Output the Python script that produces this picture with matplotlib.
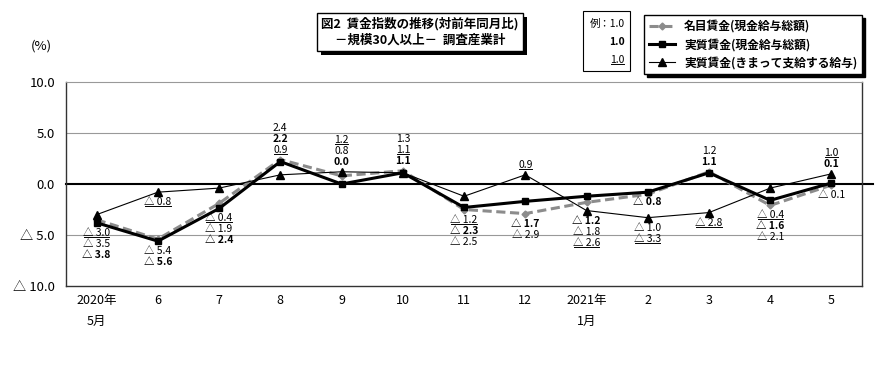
import matplotlib
matplotlib.use("Agg")
import matplotlib.pyplot as plt
import matplotlib.patheffects as pe
from matplotlib.lines import Line2D
from matplotlib.patches import Rectangle
from matplotlib.transforms import IdentityTransform

plt.rcParams['font.family'] = ['Noto Sans CJK JP', 'DejaVu Sans']

months = ['2020年\n5月', '6', '7', '8', '9', '10', '11', '12', '2021年\n1月', '2', '3', '4', '5']
nominal = [-3.5, -5.4, -1.9, 2.4, 0.8, 1.3, -2.5, -2.9, -1.8, -1.0, 1.2, -2.1, -0.1]
real = [-3.8, -5.6, -2.4, 2.2, 0.0, 1.1, -2.3, -1.7, -1.2, -0.8, 1.1, -1.6, 0.1]
real_fixed = [-3.0, -0.8, -0.4, 0.9, 1.2, 1.1, -1.2, 0.9, -2.6, -3.3, -2.8, -0.4, 1.0]
yticks = [10, 5, 0, -5, -10]
ytick_labels = ['10.0', '5.0', '0.0', '△ 5.0', '△ 10.0']

series = {'nom': nominal, 'real': real, 'tri': real_fixed}

# label stacks per month: (side, anchor series, order top->bottom)
stacks = [
    [('b', 'real', ['tri', 'nom', 'real'])],
    [('b', 'tri', ['tri']), ('b', 'real', ['nom', 'real'])],
    [('b', 'real', ['tri', 'nom', 'real'])],
    [('a', 'nom', ['nom', 'real', 'tri'])],
    [('a', 'tri', ['tri', 'nom', 'real'])],
    [('a', 'nom', ['nom', 'tri', 'real'])],
    [('b', 'nom', ['tri', 'real', 'nom'])],
    [('a', 'tri', ['tri']), ('b', 'nom', ['real', 'nom'])],
    [('b', 'tri', ['real', 'nom', 'tri'])],
    [('b', 'real', ['real']), ('b', 'tri', ['nom', 'tri'])],
    [('a', 'nom', ['nom', 'real']), ('b', 'tri', ['tri'])],
    [('b', 'nom', ['tri', 'real', 'nom'])],
    [('a', 'tri', ['tri', 'real']), ('b', 'nom', ['nom'])],
]


def fmt(v):
    if v < 0:
        return '△ %.1f' % (-v)
    return '%.1f' % v


fig = plt.figure(figsize=(8.9, 3.65), dpi=100)
ax = fig.add_axes([0.0742, 0.2164, 0.8944, 0.5589])
x = list(range(len(months)))

ax.plot(x, nominal, color='#8c8c8c', lw=2.2, ls=(0, (3, 1.5)), marker='D', ms=3.5,
        zorder=3, label='名目賃金(現金給与総額)')
ax.plot(x, real, color='black', lw=2.2, marker='s', ms=5, zorder=4,
        label='実質賃金(現金給与総額)')
ax.plot(x, real_fixed, color='black', lw=0.8, marker='^', ms=5.5, zorder=5,
        label='実質賃金(きまって支給する給与)')

ax.axhline(0, xmin=0, xmax=1.014, color='black', lw=1.5, clip_on=False, zorder=2)
for g in [5, -5]:
    ax.axhline(g, color='#999999', lw=0.8, zorder=1)

ax.set_xlim(-0.5, 12.5)
ax.set_ylim(-10, 10)
ax.set_yticks(yticks)
ax.set_yticklabels(ytick_labels, fontsize=9.5)
ax.set_xticks(x)
ax.set_xticklabels(months, fontsize=9, linespacing=1.8, va='top')
ax.tick_params(length=0)
ax.tick_params(axis='x', pad=6)
ax.tick_params(axis='y', pad=8)
for s in ['left', 'right', 'bottom']:
    ax.spines[s].set_color('#333333')
    ax.spines[s].set_linewidth(1)
ax.spines['top'].set_color('#999999')
ax.spines['top'].set_linewidth(0.8)

# data labels
underlined = []
for i, groups in enumerate(stacks):
    for side, anchor, order in groups:
        vals = [series[k][i] for k in order]
        n = len(order)
        if side == 'a':
            ybase = max(vals + [series[anchor][i]])
        else:
            ybase = min(vals + [series[anchor][i]])
        for j, k in enumerate(order):
            if side == 'a':
                dy = 10 + (n - 1 - j) * 11
            else:
                dy = -(10 + j * 11)
            t = ax.annotate(fmt(series[k][i]), (i, ybase), xytext=(0, dy),
                            textcoords='offset pixels', ha='center', va='center',
                            fontsize=7.5, fontweight='bold' if k == 'real' else 'normal',
                            zorder=6)
            if k == 'tri':
                underlined.append(t)

fig.text(0.034, 0.875, '(%)', fontsize=9.5, ha='left', va='center')

# title box
title = fig.text(0.472, 0.913, '図2  賃金指数の推移(対前年同月比)\n－規模30人以上－  調査産業計',
                 ha='center', va='center', fontsize=9, linespacing=1.3, fontweight='bold',
                 bbox=dict(boxstyle='square,pad=0.35', fc='white', ec='black', lw=1))
title.get_bbox_patch().set_path_effects(
    [pe.withSimplePatchShadow(offset=(3, -3), shadow_rgbFace='black', alpha=1)])

# example box
fig.add_artist(Rectangle((0.655, 0.805), 0.053, 0.165, transform=fig.transFigure,
                         fc='white', ec='black', lw=0.8))
fig.text(0.702, 0.935, '例：1.0', ha='right', va='center', fontsize=7.5)
fig.text(0.702, 0.885, '1.0', ha='right', va='center', fontsize=7.5, fontweight='bold')
ex = fig.text(0.702, 0.835, '1.0', ha='right', va='center', fontsize=7.5)
underlined.append(ex)

leg = fig.legend(loc='upper left', bbox_to_anchor=(0.717, 0.975),
                 prop={'size': 8.5, 'weight': 'bold'},
                 frameon=True, fancybox=False, edgecolor='black', framealpha=1,
                 handlelength=2.2, labelspacing=0.45, borderpad=0.4,
                 shadow={'color': 'black', 'alpha': 1})
leg.get_frame().set_linewidth(1)

fig.canvas.draw()
r = fig.canvas.get_renderer()
for t in underlined:
    bb = t.get_window_extent(r)
    fig.add_artist(Line2D([bb.x0 + 1, bb.x1 - 1], [bb.y0 + 1, bb.y0 + 1],
                          transform=IdentityTransform(), color='black', lw=0.7))

fig.savefig('out.png', dpi=100)
